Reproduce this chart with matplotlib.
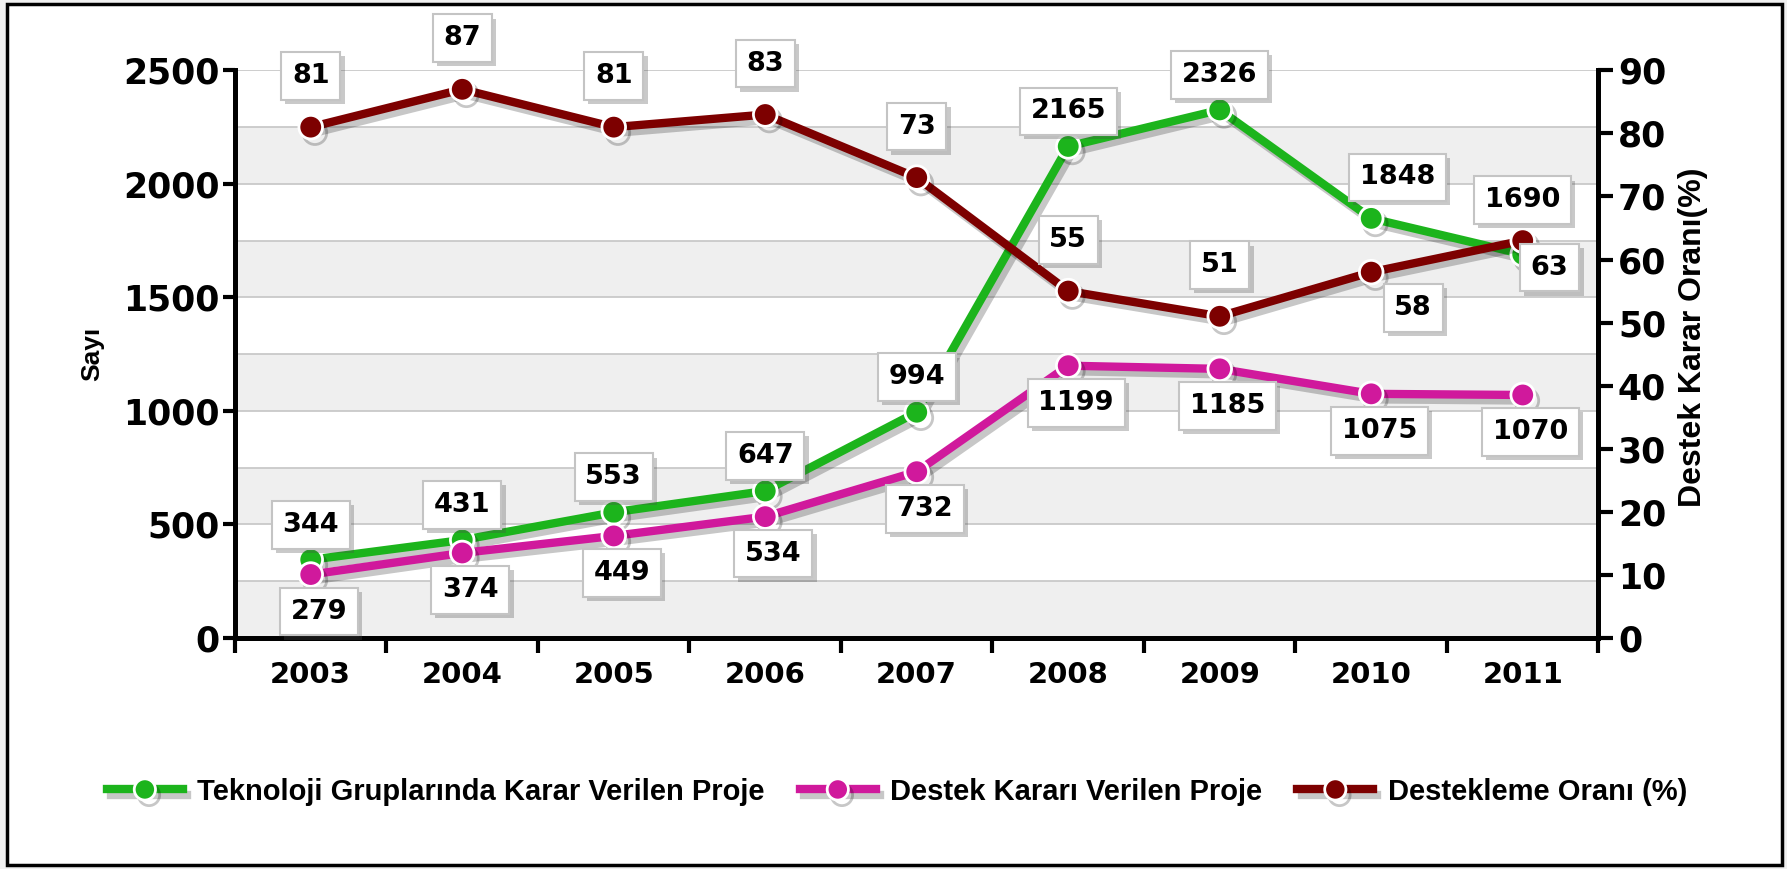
import matplotlib
matplotlib.use("Agg")
from matplotlib import pyplot as plt
from matplotlib import patheffects as pe
from matplotlib.patches import Rectangle
import numpy as np


years = ["2003", "2004", "2005", "2006", "2007", "2008", "2009", "2010", "2011"]
karar_verilen = [344, 431, 553, 647, 994, 2165, 2326, 1848, 1690]
destek_verilen = [279, 374, 449, 534, 732, 1199, 1185, 1075, 1070]
destek_orani = [81, 87, 81, 83, 73, 55, 51, 58, 63]

GREEN = "#1cb41c"
MAGENTA = "#d0199c"
DARKRED = "#7d0000"

# label offsets (pixels), default per series plus a few hand-placed ones
green_off = {7: (26, 41), 8: (0, 54)}
red_off = {7: (42, -36), 8: (27, -27)}

DIGIT_FONT = "DejaVu Sans"
TEXT_FONT = ["Liberation Sans", "DejaVu Sans"]

fig = plt.figure(figsize=(17.87, 8.69), dpi=100, facecolor="#f0f0f0")
fig.patches.append(Rectangle((7 / 1787, 4 / 869), 1775 / 1787, 861 / 869,
                             transform=fig.transFigure, fc="white",
                             ec="black", lw=2.5, zorder=-5))

ax = fig.add_axes([0.1315, 0.266, 0.763, 0.653])
ax2 = ax.twinx()
xs = np.arange(len(years))

# alternating bands + grid
ax.set_facecolor("white")
for i, lo in enumerate(range(0, 2500, 250)):
    if i % 2 == 0:
        ax.axhspan(lo, lo + 250, color="#efefef", zorder=0, lw=0)
for y in range(250, 2501, 250):
    ax.axhline(y, color="#c9c9c9", lw=1.3, zorder=0.5)

shadow = [pe.SimpleLineShadow(offset=(3, -4), alpha=0.22, shadow_color="black"),
          pe.Normal()]

l1, = ax.plot(xs, karar_verilen, color=GREEN, lw=6, marker="o", ms=17,
              mfc=GREEN, mec="white", mew=2, zorder=3, path_effects=shadow,
              label="Teknoloji Gruplarında Karar Verilen Proje")
l2, = ax.plot(xs, destek_verilen, color=MAGENTA, lw=6, marker="o", ms=17,
              mfc=MAGENTA, mec="white", mew=2, zorder=4, path_effects=shadow,
              label="Destek Kararı Verilen Proje")
l3, = ax2.plot(xs, destek_orani, color=DARKRED, lw=6, marker="o", ms=17,
               mfc=DARKRED, mec="white", mew=2, zorder=3, path_effects=shadow,
               label="Destekleme Oranı (%)")

ax.set_xlim(-0.5, len(years) - 0.5)
ax.set_ylim(0, 2500)
ax2.set_ylim(0, 90)

ax.set_yticks(range(0, 2501, 500))
ax2.set_yticks(range(0, 91, 10))
ax.set_xticks(np.arange(-0.5, len(years)), [""] * (len(years) + 1))
ax.set_xticks(xs, years, minor=True)

tick_font = dict(family=DIGIT_FONT, weight="bold", size=25)
for lab in ax.get_yticklabels() + ax2.get_yticklabels():
    lab.set(**tick_font)
for lab in ax.get_xticklabels(minor=True):
    lab.set(family=DIGIT_FONT, weight="bold", size=21)

ax.tick_params(axis="y", length=9, width=3, pad=2, color="black")
ax2.tick_params(axis="y", length=11, width=3, pad=3, color="black")
ax.tick_params(axis="x", which="major", length=11, width=3)
ax.tick_params(axis="x", which="minor", length=0, pad=17)

for a in (ax, ax2):
    a.spines["top"].set_visible(False)
    for s in ("left", "right", "bottom"):
        a.spines[s].set_linewidth(3.5)

ax.set_ylabel("Sayı", family=TEXT_FONT, weight="bold", size=19)
ax2.set_ylabel("Destek Karar Oranı(%)", family=TEXT_FONT, weight="bold",
               size=23)
ax2.yaxis.set_label_coords(1.058, 0.53)
ax.yaxis.set_label_coords(-0.096, 0.5)


def put_label(value, x, y, dx, dy, src_ax):
    ann = ax2.annotate(str(value), (x, y), xycoords=src_ax.transData,
                       xytext=(dx, dy), textcoords="offset pixels",
                       ha="center", va="center", family=DIGIT_FONT,
                       weight="bold", size=19.5, zorder=10,
                       bbox=dict(boxstyle="square,pad=0.4", fc="white",
                                 ec="#c4c4c4", lw=1.5))
    ann.get_bbox_patch().set_path_effects(
        [pe.SimplePatchShadow(offset=(3, -3), alpha=0.3), pe.Normal()])


for i, v in enumerate(karar_verilen):
    dx, dy = green_off.get(i, (0, 35))
    put_label(v, xs[i], v, dx, dy, ax)
for i, v in enumerate(destek_verilen):
    put_label(v, xs[i], v, 8, -37, ax)
for i, v in enumerate(destek_orani):
    dx, dy = red_off.get(i, (0, 51))
    put_label(v, xs[i], v, dx, dy, ax2)

fig.legend(handles=[l1, l2, l3], loc="center", bbox_to_anchor=(0.502, 0.089),
           ncol=3, frameon=False, handlelength=2.6, handletextpad=0.5,
           columnspacing=1.2, markerscale=0.9,
           prop=dict(family=TEXT_FONT, weight="bold", size=21))

fig.savefig("out.png", dpi=100, facecolor=fig.get_facecolor())
